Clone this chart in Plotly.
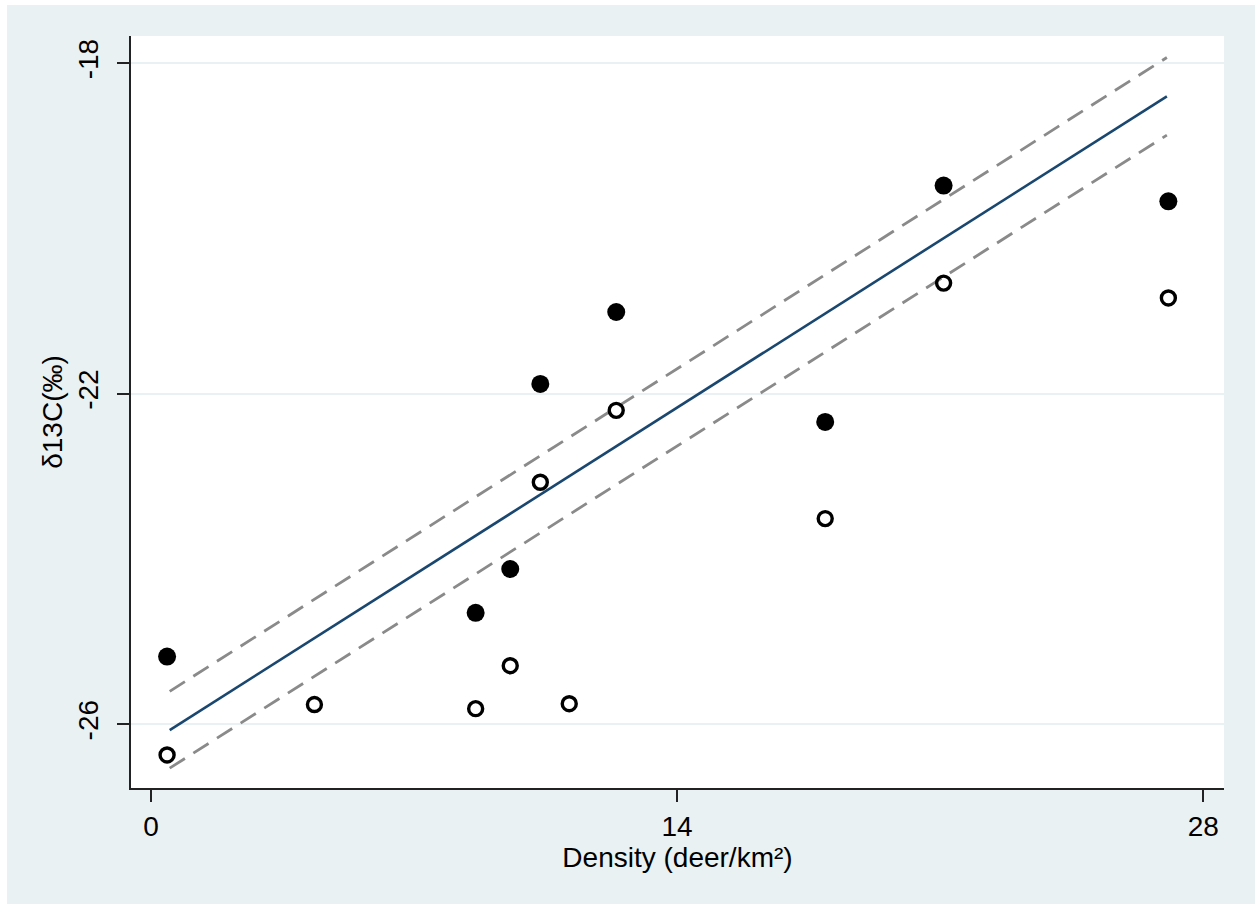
import plotly.graph_objects as go

# Data
density_filled = [0.43, 8.64, 9.56, 10.36, 12.38, 17.94, 21.09, 27.07]
d13c_filled = [-25.18, -24.65, -24.12, -21.88, -21.01, -22.34, -19.48, -19.67]

density_open = [0.43, 4.35, 8.64, 9.56, 11.13, 10.36, 12.38, 17.94, 21.09, 27.07]
d13c_open = [-26.37, -25.76, -25.81, -25.29, -25.75, -23.07, -22.20, -23.51, -20.66, -20.84]

fit_x = [0.5, 27.03]
fit_y = [-26.07, -18.40]
ci_upper = [-25.60, -17.93]
ci_lower = [-26.53, -18.87]

x_ticks = [0, 14, 28]
x_ticktext = ["0", "14", "28"]
y_ticks = [-26, -22, -18]
y_ticktext = ["-26", "-22", "-18"]

BG = "#eaf1f3"
FONT = "Liberation Sans, Arial, Helvetica, sans-serif"

fig = go.Figure()

fig.add_trace(go.Scatter(x=fit_x, y=ci_upper, mode="lines",
                         line=dict(color="#8a8a8a", width=2.8, dash="18px,10px"),
                         showlegend=False, hoverinfo="skip"))
fig.add_trace(go.Scatter(x=fit_x, y=ci_lower, mode="lines",
                         line=dict(color="#8a8a8a", width=2.8, dash="18px,10px"),
                         showlegend=False, hoverinfo="skip"))
fig.add_trace(go.Scatter(x=fit_x, y=fit_y, mode="lines",
                         line=dict(color="#1a476f", width=2.6),
                         showlegend=False))
fig.add_trace(go.Scatter(x=density_filled, y=d13c_filled, mode="markers",
                         marker=dict(symbol="circle", size=18, color="black",
                                     line=dict(width=0)),
                         showlegend=False))
fig.add_trace(go.Scatter(x=density_open, y=d13c_open, mode="markers",
                         marker=dict(symbol="circle-open", size=14, color="black",
                                     line=dict(width=3.4, color="black")),
                         showlegend=False))

L, R, T, B = 131, 31, 36, 118
W, H = 1255, 906
pw = W - L - R
ph = H - T - B

def px_to_paper_x(px):
    return (px - L) / pw

def px_to_paper_y(py):
    return (H - B - py) / ph

fig.update_layout(
    width=W, height=H,
    margin=dict(l=L, r=R, t=T, b=B, pad=0),
    paper_bgcolor="white",
    plot_bgcolor="white",
    font=dict(family=FONT, color="black", size=28),
    shapes=[
        dict(type="rect", xref="paper", yref="paper", layer="below",
             x0=px_to_paper_x(7), x1=px_to_paper_x(1256),
             y0=px_to_paper_y(904), y1=px_to_paper_y(5),
             fillcolor=BG, line=dict(width=0)),
        dict(type="rect", xref="paper", yref="paper", layer="below",
             x0=0, x1=1, y0=0, y1=1,
             fillcolor="white", line=dict(width=0)),
    ],
    xaxis=dict(
        range=[-0.53, 28.55],
        tickvals=x_ticks, ticktext=x_ticktext,
        ticks="outside", ticklen=12, tickwidth=1.5, tickcolor="#222",
        showline=True, linecolor="#222", linewidth=2,
        showgrid=False, zeroline=False,
        tickfont=dict(size=28),
        title=dict(text="Density (deer/km²)", font=dict(size=28), standoff=3),
    ),
    yaxis=dict(
        range=[-26.77, -17.67],
        tickvals=y_ticks, ticktext=y_ticktext,
        tickangle=-90,
        ticklabelstandoff=8,
        ticks="outside", ticklen=12, tickwidth=1.5, tickcolor="#222",
        showline=True, linecolor="#222", linewidth=2,
        showgrid=True, gridcolor=BG, gridwidth=2,
        zeroline=False,
        tickfont=dict(size=28),
        title=dict(text="δ13C(‰)", font=dict(size=28), standoff=2),
    ),
)

fig.write_html("out.html")
